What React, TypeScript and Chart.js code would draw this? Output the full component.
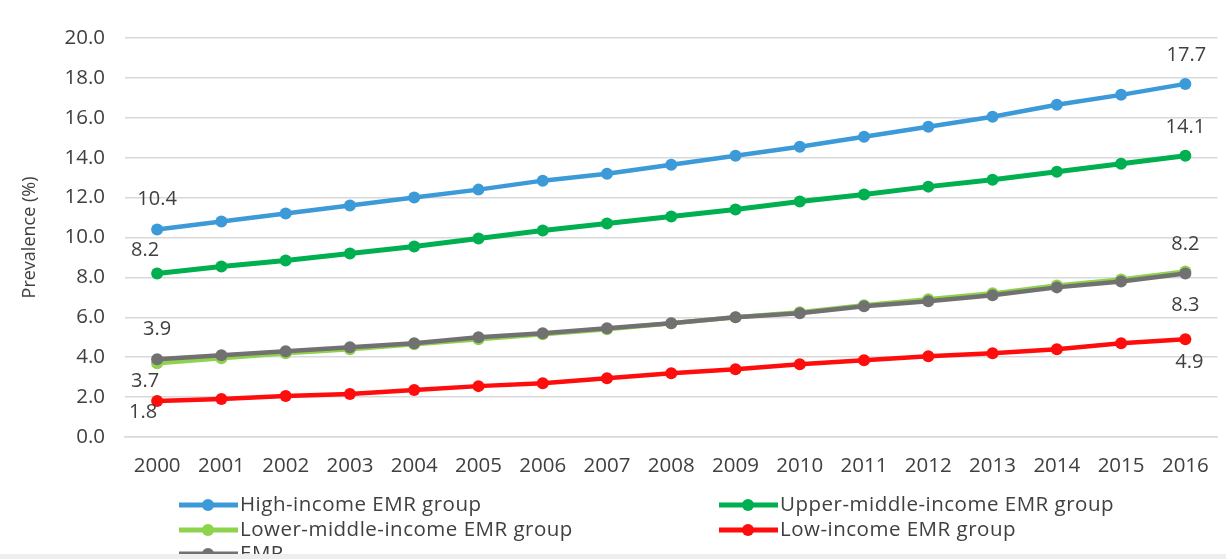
import React, { useEffect, useRef } from "react";
import { Chart, registerables } from "chart.js";

Chart.register(...registerables);

const years = ["2000", "2001", "2002", "2003", "2004", "2005", "2006", "2007", "2008", "2009", "2010", "2011", "2012", "2013", "2014", "2015", "2016"];
const highIncome = [10.4, 10.8, 11.2, 11.6, 12.0, 12.4, 12.85, 13.2, 13.65, 14.1, 14.55, 15.05, 15.55, 16.05, 16.65, 17.15, 17.7];
const upperMiddle = [8.2, 8.55, 8.85, 9.2, 9.55, 9.95, 10.35, 10.7, 11.05, 11.4, 11.8, 12.15, 12.55, 12.9, 13.3, 13.7, 14.1];
const lowerMiddle = [3.7, 3.95, 4.2, 4.4, 4.65, 4.9, 5.15, 5.4, 5.7, 6.0, 6.25, 6.6, 6.9, 7.2, 7.6, 7.9, 8.3];
const lowIncome = [1.8, 1.9, 2.05, 2.15, 2.35, 2.55, 2.7, 2.95, 3.2, 3.4, 3.65, 3.85, 4.05, 4.2, 4.4, 4.7, 4.9];
const emr = [3.9, 4.1, 4.3, 4.5, 4.7, 5.0, 5.2, 5.45, 5.7, 6.0, 6.2, 6.55, 6.8, 7.1, 7.5, 7.8, 8.2];

const seriesNames = [
  "High-income EMR group",
  "Upper-middle-income EMR group",
  "Lower-middle-income EMR group",
  "Low-income EMR group",
  "EMR",
];
const seriesColors = ["#3c9ad8", "#00b050", "#8fd24e", "#ff0c0c", "#717171"];

const yAxisTitle = "Prevalence (%)";
const FONT = "'Open Sans', Lato, sans-serif";
const TEXT = "#404040";

// which values get a label (dataset index, point index) and where relative to the point
const labelSpecs = [
  { ds: 0, i: 0, dx: 0, dy: -30 },
  { ds: 1, i: 0, dx: -12, dy: -23 },
  { ds: 4, i: 0, dx: 0, dy: -30 },
  { ds: 2, i: 0, dx: -12, dy: 18 },
  { ds: 3, i: 0, dx: -14, dy: 11 },
  { ds: 0, i: 16, dx: 1, dy: -29 },
  { ds: 1, i: 16, dx: 0, dy: -28 },
  { ds: 4, i: 16, dx: 0, dy: -29 },
  { ds: 2, i: 16, dx: 0, dy: 34 },
  { ds: 3, i: 16, dx: 4, dy: 23 },
];

// legend grid: [dataset index, column, row]
const legendLayout = [
  [0, 0, 0],
  [1, 1, 0],
  [2, 0, 1],
  [3, 1, 1],
  [4, 0, 2],
];

const overlayPlugin = {
  id: "overlay",
  afterDatasetsDraw(chart: any) {
    const ctx = chart.ctx;
    ctx.save();
    ctx.font = `20px ${FONT}`;
    ctx.fillStyle = TEXT;
    ctx.textAlign = "center";
    ctx.textBaseline = "middle";
    for (const s of labelSpecs) {
      const el = chart.getDatasetMeta(s.ds).data[s.i];
      const v = chart.data.datasets[s.ds].data[s.i];
      ctx.fillText(Number(v).toFixed(1), el.x + s.dx, el.y + s.dy);
    }
    ctx.restore();
  },
  afterDraw(chart: any) {
    const ctx = chart.ctx;
    ctx.save();
    const colX = [179, 719];
    const rowY = [505, 530, 554];
    ctx.font = `20.5px ${FONT}`;
    try { (ctx as any).letterSpacing = "0.5px"; } catch (e) {}
    ctx.textBaseline = "middle";
    ctx.textAlign = "left";
    for (const [ds, c, r] of legendLayout) {
      const x = colX[c];
      const y = rowY[r];
      const col = seriesColors[ds];
      ctx.strokeStyle = col;
      ctx.lineWidth = 5;
      ctx.beginPath();
      ctx.moveTo(x, y);
      ctx.lineTo(x + 59, y);
      ctx.stroke();
      ctx.fillStyle = col;
      ctx.beginPath();
      ctx.arc(x + 29, y, 6, 0, Math.PI * 2);
      ctx.fill();
      ctx.fillStyle = TEXT;
      ctx.fillText(seriesNames[ds], x + 61, y);
    }
    ctx.fillStyle = "#eeeeee";
    ctx.fillRect(0, 554, chart.width, 5);
    ctx.restore();
  },
};

export default function App() {
  const ref = useRef<HTMLCanvasElement>(null);
  useEffect(() => {
    document.body.style.margin = "0";
    const allData = [highIncome, upperMiddle, lowerMiddle, lowIncome, emr];
    const chart = new Chart(ref.current!, {
      type: "line",
      data: {
        labels: years,
        datasets: allData.map((d, k) => ({
          label: seriesNames[k],
          data: d,
          borderColor: seriesColors[k],
          backgroundColor: seriesColors[k],
          borderWidth: k === 1 ? 5 : 4.5,
          pointRadius: 6,
          pointBorderWidth: 0,
          pointHoverRadius: 6,
          tension: 0,
          order: k === 4 ? 0 : k + 1,
        })),
      },
      plugins: [overlayPlugin],
      options: {
        responsive: false,
        animation: false,
        layout: { padding: { left: 0, right: 7, top: 38, bottom: 0 } },
        plugins: { legend: { display: false }, tooltip: { enabled: false }, title: { display: false } },
        scales: {
          x: {
            offset: true,
            grid: { display: false, drawTicks: false },
            border: { display: true, color: "#d9d9d9", width: 1.5 },
            ticks: { color: TEXT, font: { size: 20.5, family: FONT }, padding: 17, maxRotation: 0, autoSkip: false },
            afterFit: (s: any) => { s.height = 122; },
          },
          y: {
            min: 0,
            max: 20,
            grid: { color: "#d9d9d9", lineWidth: 1.5, drawTicks: false },
            border: { display: false },
            ticks: {
              stepSize: 2,
              color: TEXT,
              font: { size: 20.5, family: FONT },
              padding: 20,
              callback: (v: any) => Number(v).toFixed(1),
            },
            title: { display: true, text: yAxisTitle, color: TEXT, font: { size: 18, family: FONT }, padding: { top: 19, bottom: 0 } },
            afterFit: (s: any) => { s.width = 125; },
          },
        },
      },
    });
    return () => chart.destroy();
  }, []);
  return <canvas ref={ref} width={1226} height={559} style={{ display: "block" }} />;
}
